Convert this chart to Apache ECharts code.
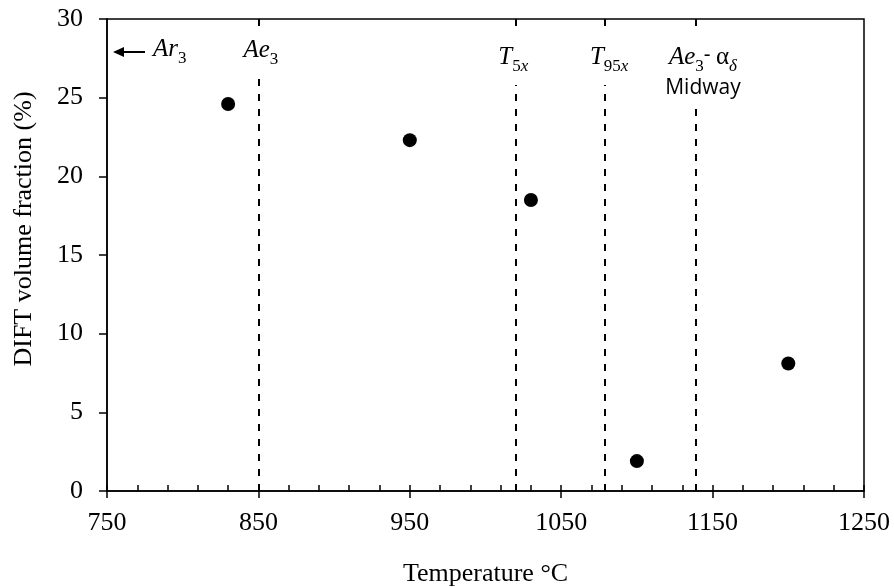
<!DOCTYPE html>
<html>
<head>
<meta charset="utf-8">
<script src="https://cdn.jsdelivr.net/npm/echarts@6/dist/echarts.min.js"></script>
<style>
  html, body { margin: 0; padding: 0; background: #fff; }
  #chart { width: 894px; height: 588px; }
</style>
</head>
<body>
<div id="chart"></div>
<script>
// DIFT volume fraction measured at each deformation temperature (°C)
const temperatures = [830, 950, 1030, 1100, 1200];
const diftFraction = [24.6, 22.3, 18.5, 1.9, 8.1];

// Characteristic temperatures shown as dashed verticals: Ae3, T5x, T95x, Ae3-αδ midway
const markerTemps = [850, 1020, 1079, 1139];

// Axis tick values
const xTicks = [750, 850, 950, 1050, 1150, 1250];
const yTicks = [0, 5, 10, 15, 20, 25, 30];

const SERIF = 'Liberation Serif';
const SANS = 'Open Sans';
const GRID = { left: 107, right: 30, top: 19, bottom: 97 };

const chart = echarts.init(document.getElementById('chart'), null, { renderer: 'canvas' });

const axisLineStyle = { color: '#000', width: 1.5 };
const xRange = {
  min: xTicks[0],
  max: xTicks[xTicks.length - 1],
  interval: xTicks[1] - xTicks[0]
};
const plain = v => String(v);

chart.setOption({
  animation: false,
  backgroundColor: '#fff',
  grid: Object.assign({
    show: true,
    borderColor: '#000',
    borderWidth: 1.5,
    backgroundColor: 'transparent',
    containLabel: false,
    outerBoundsMode: 'none'
  }, GRID),
  xAxis: [
    Object.assign({
      type: 'value',
      position: 'bottom',
      axisLine: { show: true, onZero: false, lineStyle: axisLineStyle },
      axisTick: { show: true, inside: false, length: 7, lineStyle: axisLineStyle },
      axisLabel: { color: '#000', fontFamily: SERIF, fontSize: 26, margin: 19, formatter: plain },
      splitLine: { show: false },
      name: 'Temperature °C',
      nameLocation: 'middle',
      nameGap: 70,
      nameTextStyle: { color: '#000', fontFamily: SERIF, fontSize: 26 }
    }, xRange),
    // Same scale again, only for the inward major and minor ticks
    Object.assign({
      type: 'value',
      position: 'bottom',
      axisLine: { show: false, onZero: false },
      axisTick: { show: true, inside: true, length: 6, lineStyle: axisLineStyle },
      minorTick: { show: true, splitNumber: 5, length: 6, lineStyle: axisLineStyle },
      axisLabel: { show: false },
      splitLine: { show: false }
    }, xRange)
  ],
  yAxis: {
    type: 'value',
    min: yTicks[0],
    max: yTicks[yTicks.length - 1],
    interval: yTicks[1] - yTicks[0],
    axisLine: { show: true, onZero: false, lineStyle: axisLineStyle },
    axisTick: { show: true, inside: false, length: 8, lineStyle: axisLineStyle },
    axisLabel: { color: '#000', fontFamily: SERIF, fontSize: 26, margin: 24, formatter: plain },
    splitLine: { show: false },
    name: 'DIFT volume fraction (%)',
    nameLocation: 'middle',
    nameRotate: 90,
    nameGap: 70,
    nameTextStyle: { color: '#000', fontFamily: SERIF, fontSize: 26, padding: [0, 0, 0, 52] }
  },
  series: [{
    type: 'scatter',
    xAxisIndex: 0,
    symbol: 'circle',
    symbolSize: 14,
    itemStyle: { color: '#000', opacity: 1 },
    data: temperatures.map((t, i) => [t, diftFraction[i]]),
    markLine: {
      silent: true,
      symbol: 'none',
      animation: false,
      label: { show: false },
      lineStyle: { color: '#000', width: 2, type: [7, 8], opacity: 1 },
      data: markerTemps.map(v => ({ xAxis: v }))
    }
  }]
});

// Annotation text styles
const it = { fontFamily: SERIF, fontStyle: 'italic', fontSize: 25, color: '#000', verticalAlign: 'top', padding: [4, 0, 0, 0] };
const up = { fontFamily: SERIF, fontSize: 25, color: '#000', verticalAlign: 'top', padding: [4, 0, 0, 0] };
const sub = { fontFamily: SERIF, fontSize: 17, color: '#000', verticalAlign: 'top', padding: [17, 0, 0, 0] };
const subIt = Object.assign({}, sub, { fontStyle: 'italic' });
const sans = { fontFamily: SANS, fontSize: 21, color: '#000', verticalAlign: 'top', padding: [4, 0, 0, 0] };
const mid = { fontFamily: SANS, fontSize: 21, color: '#000', verticalAlign: 'top', padding: [3, 0, 0, 0] };
const rich = { it, up, sub, subIt, sans, mid };

const xPx = v => chart.convertToPixel({ xAxisIndex: 0 }, v);
const boxTop = GRID.top + 11;

function label(x, text, padding, align) {
  return {
    type: 'text',
    x: x,
    y: boxTop,
    z: 100,
    style: {
      text: text,
      rich: rich,
      align: align || 'center',
      verticalAlign: 'top',
      backgroundColor: '#fff',
      padding: padding
    }
  };
}

const arrowY = GRID.top + 33;
const arrowTip = xPx(xTicks[0]) + 6;

chart.setOption({
  graphic: [
    // Ar3 lies below the plotted range: arrow pointing left
    {
      type: 'line', z: 100,
      shape: { x1: arrowTip + 8, y1: arrowY, x2: arrowTip + 32, y2: arrowY },
      style: { stroke: '#000', lineWidth: 2 }
    },
    {
      type: 'polygon', z: 100,
      shape: { points: [[arrowTip, arrowY], [arrowTip + 11, arrowY - 5], [arrowTip + 11, arrowY + 5]] },
      style: { fill: '#000' }
    },
    label(arrowTip + 40, '{it|Ar}{sub|3}', [3, 2, 0, 0], 'left'),
    label(xPx(markerTemps[0]) + 2.5, '{it|Ae}{sub|3}', [4, 4, 11, 4]),
    label(xPx(markerTemps[1]) - 2.5, '{it|T}{sub|5}{subIt|x}', [11, 4, 10, 4]),
    label(xPx(markerTemps[2]) + 4, '{it|T}{sub|95}{subIt|x}', [11, 4, 10, 4]),
    label(xPx(markerTemps[3]) + 7, '{it|Ae}{sub|3}{sans|- }{up|α}{subIt|δ}\n{mid|Midway}', [11, 4, 3, 4])
  ]
});
</script>
</body>
</html>
